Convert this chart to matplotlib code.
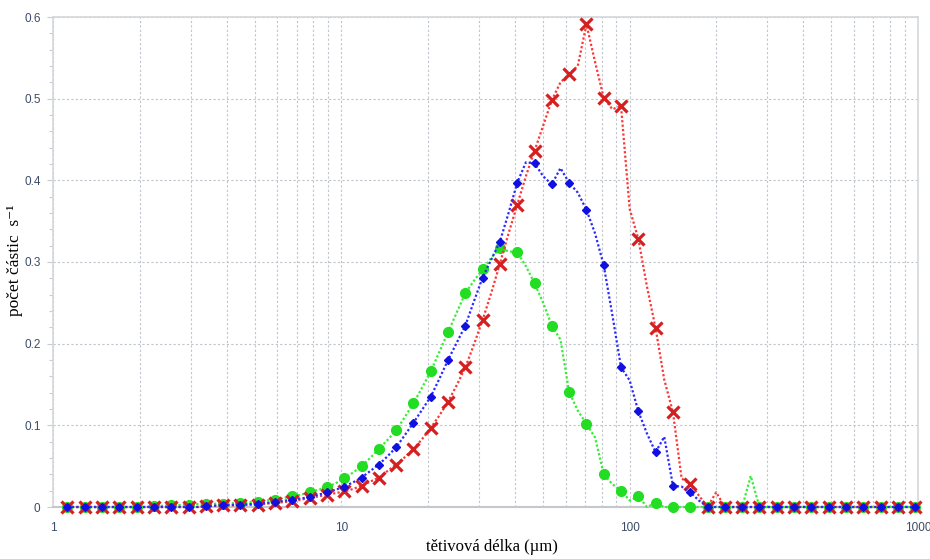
import matplotlib
matplotlib.use("Agg")
import matplotlib.pyplot as plt
from matplotlib.ticker import LogLocator, MultipleLocator, FixedLocator, NullFormatter

# chord length bins (um), markers on every other bin
chord = [1.122, 1.202, 1.288, 1.380, 1.479, 1.585, 1.698, 1.820, 1.950, 2.089,
         2.239, 2.399, 2.570, 2.754, 2.951, 3.162, 3.388, 3.631, 3.890, 4.169,
         4.467, 4.786, 5.129, 5.495, 5.888, 6.310, 6.761, 7.244, 7.762, 8.318,
         8.913, 9.550, 10.23, 10.96, 11.75, 12.59, 13.49, 14.45, 15.49, 16.60,
         17.78, 19.05, 20.42, 21.88, 23.44, 25.12, 26.92, 28.84, 30.90, 33.11,
         35.48, 38.02, 40.74, 43.65, 46.77, 50.12, 53.70, 57.54, 61.66, 66.07,
         70.79, 75.86, 81.28, 87.10, 93.33, 100.0, 107.2, 114.8, 123.0, 131.8,
         141.3, 151.4, 162.2, 173.8, 186.2, 199.5, 213.8, 229.1, 245.5, 263.0,
         281.8, 302.0, 323.6, 346.7, 371.5, 398.1, 426.6, 457.1, 489.8, 524.8,
         562.3, 602.6, 645.7, 691.8, 741.3, 794.3, 851.1, 912.0, 977.2]

green = [0, 0, 0, 0, 0, 0, 0, 0, 0, 0,
         0.001, 0.0015, 0.002, 0.0025, 0.003, 0.0035, 0.004, 0.004, 0.004, 0.0045,
         0.005, 0.006, 0.0065, 0.008, 0.009, 0.011, 0.013, 0.015, 0.018, 0.021,
         0.024, 0.029, 0.035, 0.042, 0.050, 0.060, 0.071, 0.082, 0.094, 0.110,
         0.127, 0.146, 0.166, 0.190, 0.214, 0.238, 0.262, 0.277, 0.291, 0.305,
         0.317, 0.313, 0.312, 0.295, 0.274, 0.250, 0.222, 0.205, 0.141, 0.118,
         0.102, 0.085, 0.040, 0.028, 0.020, 0.008, 0.013, 0.0, 0.005, 0.0,
         0, 0, 0, 0, 0, 0, 0, 0, 0, 0.038,
         0, 0, 0, 0, 0, 0, 0, 0, 0, 0,
         0, 0, 0, 0, 0, 0, 0, 0, 0]

blue = [0, 0, 0, 0, 0, 0, 0, 0, 0, 0,
        0, 0, 0, 0, 0, 0, 0.001, 0.0015, 0.002, 0.0025,
        0.003, 0.0035, 0.004, 0.005, 0.006, 0.0075, 0.009, 0.0105, 0.012, 0.015,
        0.018, 0.021, 0.025, 0.030, 0.036, 0.044, 0.052, 0.062, 0.073, 0.088,
        0.103, 0.119, 0.135, 0.157, 0.180, 0.201, 0.222, 0.252, 0.281, 0.303,
        0.325, 0.360, 0.397, 0.422, 0.421, 0.405, 0.395, 0.415, 0.397, 0.385,
        0.364, 0.335, 0.296, 0.235, 0.171, 0.155, 0.117, 0.090, 0.067, 0.086,
        0.026, 0.025, 0.018, 0.008, 0, 0, 0, 0, 0, 0,
        0, 0, 0, 0, 0, 0, 0, 0, 0, 0,
        0, 0, 0, 0, 0, 0, 0, 0, 0]

red = [0, 0, 0, 0, 0, 0, 0, 0, 0, 0,
       0, 0, 0, 0, 0, 0, 0.001, 0.0015, 0.002, 0.002,
       0.002, 0.0025, 0.003, 0.004, 0.005, 0.006, 0.007, 0.009, 0.011, 0.013,
       0.015, 0.017, 0.019, 0.022, 0.026, 0.031, 0.036, 0.044, 0.052, 0.061,
       0.071, 0.083, 0.097, 0.112, 0.129, 0.149, 0.171, 0.199, 0.229, 0.262,
       0.298, 0.335, 0.370, 0.405, 0.436, 0.467, 0.498, 0.520, 0.530, 0.540,
       0.591, 0.545, 0.501, 0.487, 0.491, 0.365, 0.328, 0.270, 0.219, 0.156,
       0.116, 0.035, 0.028, 0.014, 0, 0.018, 0, 0, 0, 0,
       0, 0, 0, 0, 0, 0, 0, 0, 0, 0,
       0, 0, 0, 0, 0, 0, 0, 0, 0]

y_ticks = [0, 0.1, 0.2, 0.3, 0.4, 0.5, 0.6]
y_labels = ["0", "0.1", "0.2", "0.3", "0.4", "0.5", "0.6"]
x_ticks = [1, 10, 100, 1000]
x_labels = ["1", "10", "100", "1000"]

fig = plt.figure(figsize=(9.3, 5.59), dpi=100)
ax = fig.add_axes([53 / 930, 52 / 559, 865 / 930, 490 / 559])

dots = (0, (1, 1))
ax.plot(chord, green, linestyle=dots, lw=1.6, color="#33ee33", marker="o", ms=7,
        mfc="#22dd22", mec="#22dd22", markevery=2, clip_on=False, zorder=3)
ax.plot(chord, red, linestyle=dots, lw=1.6, color="#ff3535", marker="x", ms=8,
        mew=2.3, mec="#d42020", markevery=2, clip_on=False, zorder=4)
ax.plot(chord, blue, linestyle=dots, lw=1.6, color="#2a2aff", marker="D", ms=3.8,
        mfc="#1010e0", mec="#1010e0", markevery=2, clip_on=False, zorder=5)

ax.set_xscale("log")
ax.set_xlim(1, 1000)
ax.set_ylim(0, 0.6)

ax.xaxis.set_major_locator(FixedLocator(x_ticks))
ax.set_xticklabels(x_labels)
ax.xaxis.set_minor_locator(LogLocator(base=10, subs=range(2, 10)))
ax.xaxis.set_minor_formatter(NullFormatter())
ax.yaxis.set_major_locator(FixedLocator(y_ticks))
ax.set_yticklabels(y_labels)
ax.yaxis.set_minor_locator(MultipleLocator(0.02))

lbl = "#3c4c66"
ax.tick_params(axis="x", which="both", length=0, pad=11, labelsize=8.5, labelcolor=lbl)
ax.tick_params(axis="y", which="major", length=4, width=0.8, color="#c8ccd0",
               pad=5, labelsize=8.5, labelcolor=lbl)
ax.tick_params(axis="y", which="minor", length=3, width=0.8, color="#c8ccd0")
for t in ax.get_xticklabels() + ax.get_yticklabels():
    t.set_family(["Liberation Sans", "DejaVu Sans"])

gs = dict(color="#c0c5cc", lw=0.8, linestyle=(0, (2, 2)))
ax.grid(which="both", axis="x", **gs)
ax.grid(which="major", axis="y", **gs)
ax.set_axisbelow(True)

for s in ax.spines.values():
    s.set_color("#d4d8dc")
    s.set_linewidth(1.2)
ax.spines["bottom"].set_color("#c4c8cc")
ax.spines["bottom"].set_linewidth(1.5)

serif = ["Liberation Serif", "DejaVu Serif"]
fig.text(0.529, 0.022, "tětivová délka (µm)", ha="center", va="center",
         fontsize=12, family=serif)
fig.text(0.016, 0.535, "počet částic  s⁻¹", ha="center", va="center",
         rotation=90, fontsize=12.5, family=serif)

fig.savefig("out.png", dpi=100)
